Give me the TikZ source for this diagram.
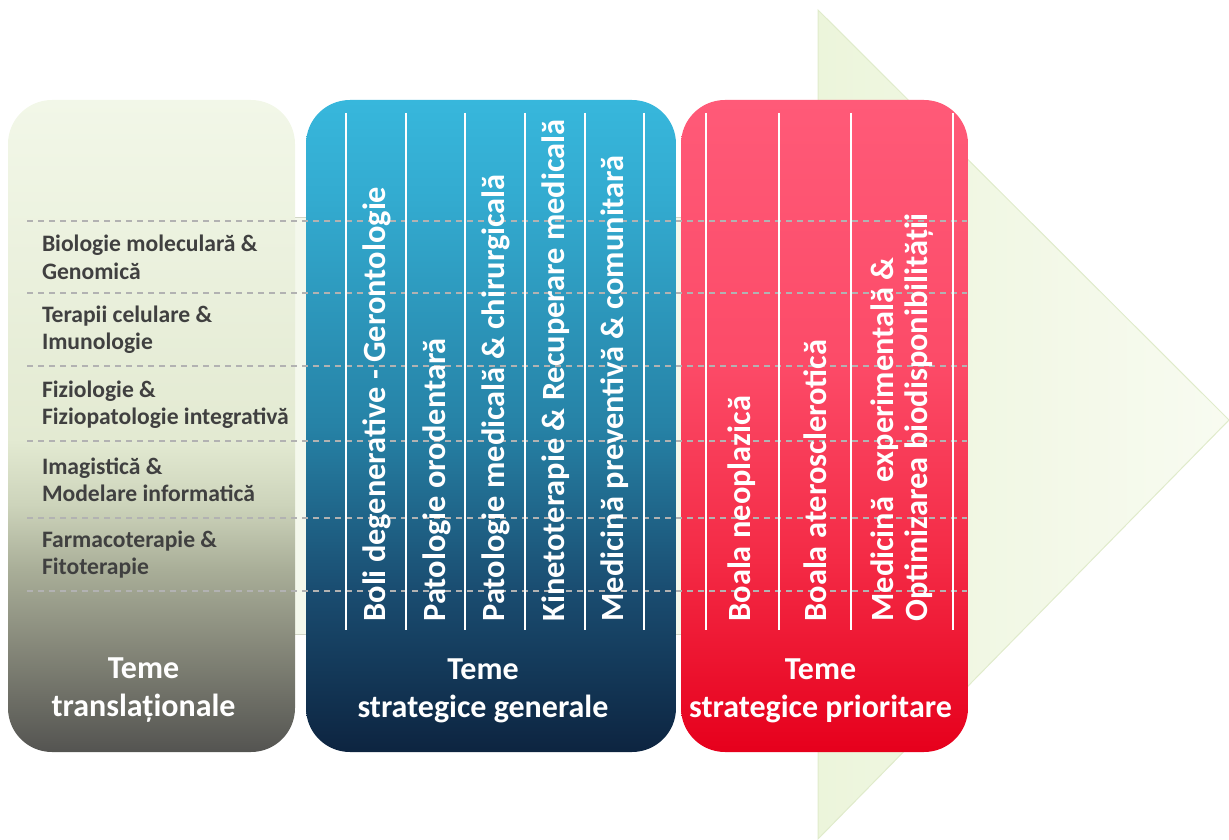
\documentclass[tikz,border=0pt]{standalone}
\usepackage{fontspec}
\setmainfont{Carlito}
\usepackage{xcolor}

\definecolor{trlight}{HTML}{F2F7E8}
\definecolor{trmid}{HTML}{E3EAD2}
\definecolor{trsoft}{HTML}{CDD4BB}
\definecolor{trgray}{HTML}{A9AE98}
\definecolor{trdim}{HTML}{858779}
\definecolor{trdark}{HTML}{545451}
\definecolor{gnlight}{HTML}{37B7DC}
\definecolor{gnupper}{HTML}{33ABD0}
\definecolor{gnmid}{HTML}{2682A6}
\definecolor{gnlow}{HTML}{1A4D71}
\definecolor{gndark}{HTML}{0D2440}
\definecolor{prlight}{HTML}{FF5A78}
\definecolor{prmid}{HTML}{FC4B68}
\definecolor{prlow}{HTML}{F42B46}
\definecolor{prdark}{HTML}{E6001C}
\definecolor{arrowgreen}{HTML}{ECF5DB}
\definecolor{arrowpale}{HTML}{F8FBF1}
\definecolor{arrowedge}{HTML}{E0EBCB}
\definecolor{cellfill}{HTML}{F4F8EC}
\definecolor{celledge}{HTML}{D2D6C6}
\definecolor{gridgray}{HTML}{B2B2B2}
\definecolor{topicgray}{HTML}{404040}

\pgfdeclareverticalshading{translshade}{100bp}{color(0bp)=(trdark); color(25bp)=(trdark); color(33bp)=(trdim); color(39bp)=(trgray); color(44bp)=(trsoft); color(49bp)=(trmid); color(75bp)=(trlight); color(100bp)=(trlight)}
\pgfdeclareverticalshading{generalshade}{100bp}{color(0bp)=(gndark); color(25bp)=(gndark); color(37.5bp)=(gnlow); color(50bp)=(gnmid); color(67.5bp)=(gnupper); color(75bp)=(gnlight); color(100bp)=(gnlight)}
\pgfdeclareverticalshading{priorshade}{100bp}{color(0bp)=(prdark); color(25bp)=(prdark); color(40bp)=(prlow); color(55bp)=(prmid); color(75bp)=(prlight); color(100bp)=(prlight)}

\begin{document}
\begin{tikzpicture}[x=0.5pt, y=-0.5pt,
        panel/.style={shade, rounded corners=22pt, minimum width=143.5pt, minimum height=326pt, inner sep=0pt},
        topic/.style={anchor=west, align=left, inner sep=0pt, text=topicgray, font=\fontsize{11.8}{13.8}\selectfont\bfseries},
        column/.style={anchor=west, align=left, rotate=90, inner sep=0pt, text=white, font=\fontsize{16.2}{17}\selectfont\bfseries},
        caption/.style={align=center, inner sep=0pt, text=white, font=\fontsize{16}{19}\selectfont\bfseries},
        grid/.style={draw=gridgray, line width=1pt, dash pattern=on 3pt off 2.5pt},
        divider/.style={draw=white, line width=1pt}
    ]
        \useasboundingbox (0,0) rectangle (1229,839);

        % Big arrow
        \draw[arrowedge, line width=0.5pt, left color=arrowgreen, right color=arrowpale]
            (818,10) -- (1229,420) -- (818,839) -- cycle;

        % Table behind the panels
        \draw[celledge, line width=0.4pt, fill=cellfill] (27,217) rectangle (967,634);

        % Panels
        \node[panel, shading=translshade] (transl) at (151.5,426) {};
        \node[panel, shading=generalshade, minimum width=185pt] (general) at (491,426) {};
        \node[panel, shading=priorshade] (prior) at (824.5,426) {};

        % Dashed rows
        \draw[grid] (27,221) -- (967,221);
        \draw[grid] (27,293) -- (967,293);
        \draw[grid] (27,366) -- (967,366);
        \draw[grid] (27,441) -- (967,441);
        \draw[grid] (27,518) -- (967,518);
        \draw[grid] (27,591) -- (967,591);

        % White column lines
        \draw[divider] (346,113) -- (346,630);
        \draw[divider] (406,113) -- (406,630);
        \draw[divider] (465,113) -- (465,630);
        \draw[divider] (525,113) -- (525,630);
        \draw[divider] (585,113) -- (585,630);
        \draw[divider] (644,113) -- (644,630);
        \draw[divider] (706,113) -- (706,630);
        \draw[divider] (779,113) -- (779,630);
        \draw[divider] (851,113) -- (851,630);
        \draw[divider] (953,113) -- (953,630);

        % Translational topics
        \node[topic, xshift=17pt, yshift=-78.75pt] (biologie) at (transl.north west)
            {Biologie moleculară \&\\Genomică};
        \node[topic, xshift=17pt, yshift=-115pt] (terapii) at (transl.north west)
            {Terapii celulare \&\\Imunologie};
        \node[topic, xshift=17pt, yshift=-152.5pt] (fiziologie) at (transl.north west)
            {Fiziologie \&\\Fiziopatologie integrativă};
        \node[topic, xshift=17pt, yshift=-190pt] (imagistica) at (transl.north west)
            {Imagistică \&\\Modelare informatică};
        \node[topic, xshift=17pt, yshift=-227.5pt] (farmaco) at (transl.north west)
            {Farmacoterapie \&\\Fitoterapie};

        % General strategic topics
        \node[column] (boli) at (377,622) {Boli degenerative - Gerontologie};
        \node[column] (orodentara) at (437,622) {Patologie orodentară};
        \node[column] (chirurgicala) at (496,622) {Patologie medicală \& chirurgicală};
        \node[column] (kineto) at (556,622) {Kinetoterapie \& Recuperare medicală};
        \node[column] (preventiva) at (615,622) {Medicină preventivă \& comunitară};

        % Priority strategic topics
        \node[column] (neoplazica) at (742,622) {Boala neoplazică};
        \node[column] (ateroscl) at (815,622) {Boala aterosclerotică};
        \node[column] (experimentala) at (902,622)
            {Medicină\ \ experimentală \&\\Optimizarea biodisponibilității};

        % Panel captions
        \node[caption, xshift=-4pt, yshift=31pt] (transllbl) at (transl.south)
            {Teme\\translaționale};
        \node[caption, xshift=-4pt, yshift=31pt] (generallbl) at (general.south)
            {Teme\\strategice generale};
        \node[caption, xshift=-2pt, yshift=31pt] (priorlbl) at (prior.south)
            {Teme\\strategice prioritare};
    \end{tikzpicture}
\end{document}
